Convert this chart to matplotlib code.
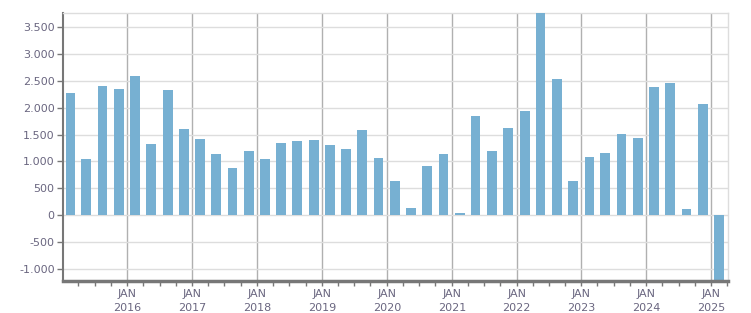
import datetime as dt

import matplotlib
matplotlib.use("Agg")
import matplotlib.pyplot as plt
import matplotlib.dates as mdates
from matplotlib.ticker import FuncFormatter, MultipleLocator

# quarterly values, Q1 2015 .. Q1 2025
quarters = [(y, q) for y in range(2015, 2026) for q in range(1, 5)][:41]
values = [
    2275, 1044, 2405, 2349, 2592, 1324, 2331, 1604, 1417, 1137,
    876, 1193, 1044, 1342, 1380, 1398, 1305, 1231, 1585, 1063,
    634, 130, 914, 1137, 37, 1846, 1193, 1622, 1939, 3800,
    2536, 634, 1082, 1156, 1510, 1436, 2387, 2461, 112, 2070,
    -1300,
]

# bar centred in the middle of each quarter
centers = [dt.datetime(y, 3 * q - 1, 15) for y, q in quarters]

text_col = "#6a6680"
bar_col = "#77b0d2"

fig = plt.figure(figsize=(7.51, 3.13), dpi=100)
ax = fig.add_axes([63 / 751, 1 - 281 / 313, (728 - 63) / 751, (281 - 13) / 313])

ax.bar(centers, values, width=55, color=bar_col, zorder=3)

ax.set_xlim(dt.datetime(2015, 1, 4), dt.datetime(2025, 4, 5))
ax.set_ylim(-1230, 3767)

ax.yaxis.set_major_locator(MultipleLocator(500))
ax.yaxis.set_major_formatter(FuncFormatter(lambda v, p: f"{int(v):,}".replace(",", ".")))
ax.xaxis.set_major_locator(mdates.YearLocator(month=1, day=1))
ax.xaxis.set_major_formatter(FuncFormatter(lambda v, p: "JAN\n" + mdates.num2date(v).strftime("%Y")))
ax.xaxis.set_minor_locator(mdates.MonthLocator(bymonth=[4, 7, 10]))

ax.grid(axis="y", color="#dddddd", lw=1, zorder=0)
ax.grid(axis="x", which="major", color="#b0b0b0", lw=1, zorder=1)

for s in ["top", "right"]:
    ax.spines[s].set_color("#dddddd")
    ax.spines[s].set_linewidth(1)
ax.spines["left"].set_color("#777777")
ax.spines["left"].set_linewidth(1.5)
ax.spines["bottom"].set_color("#777777")
ax.spines["bottom"].set_linewidth(2.5)
ax.spines["bottom"].set_zorder(4)

ax.tick_params(axis="y", length=4, width=1, color="#777777", labelsize=8, labelcolor=text_col, pad=2)
ax.tick_params(axis="x", which="major", length=3.5, width=1, color="#777777", labelsize=8,
               labelcolor=text_col, pad=2.5)
ax.tick_params(axis="x", which="minor", length=3.5, width=1, color="#777777")

fig.canvas.draw()
for lbl in ax.get_xticklabels():
    lbl.set_linespacing(1.45)

fig.savefig("out.png", dpi=100)
